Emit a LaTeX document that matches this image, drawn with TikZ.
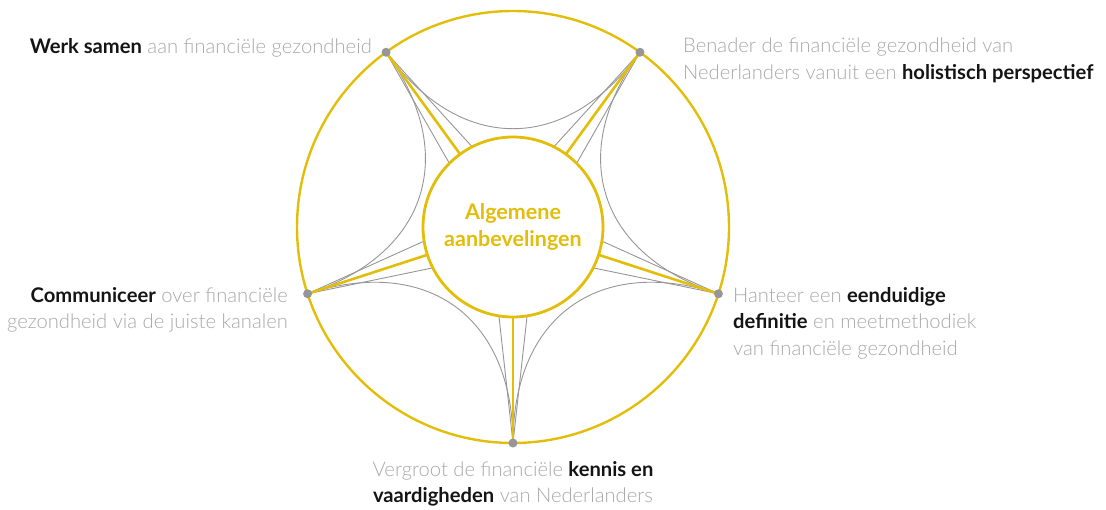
\documentclass[tikz,border=0pt]{standalone}
\usepackage{fontspec}
\setmainfont{Lato}[UprightFont={* Light},BoldFont={* Bold}]
\definecolor{gold}{RGB}{226,190,10}
\definecolor{lgray}{RGB}{150,150,150}
\definecolor{tgray}{RGB}{168,168,168}
\definecolor{tblack}{RGB}{20,20,20}
\tikzset{
  thin line/.style={draw=lgray,line width=0.9pt},
  gold line/.style={draw=gold,line width=2.6pt},
  pdot/.style={circle,fill=lgray,inner sep=0pt,minimum size=9pt},
  lbl/.style={inner sep=0pt,text=tgray,font=\fontsize{20.2}{26.5}\selectfont},
  center text/.style={inner sep=0pt,text=gold,align=center,font=\fontsize{21.5}{27}\selectfont\bfseries}
}
\newcommand{\bk}[1]{\textcolor{tblack}{\textbf{#1}}}
\begin{document}
\begin{tikzpicture}[x=1pt,y=-1pt]
\useasboundingbox (0,0) rectangle (1106,509);
\coordinate (O) at (513,227);
\foreach \a/\n in {126/A,54/B,342/C,270/D,198/E}{
  \coordinate (\n) at ({513+216*cos(\a)},{227-216*sin(\a)});
  \coordinate (\n i) at ({513+90*cos(\a)},{227-90*sin(\a)});
  \coordinate (\n l) at ({513+90*cos(\a+9)},{227-90*sin(\a+9)});
  \coordinate (\n r) at ({513+90*cos(\a-9)},{227-90*sin(\a-9)});
}
% concave arcs between neighbouring points
\draw[thin line] (A) .. controls (Ai) and (Bi) .. (B);
\draw[thin line] (B) .. controls (Bi) and (Ci) .. (C);
\draw[thin line] (C) .. controls (Ci) and (Di) .. (D);
\draw[thin line] (D) .. controls (Di) and (Ei) .. (E);
\draw[thin line] (E) .. controls (Ei) and (Ai) .. (A);
% spokes
\foreach \n in {A,B,C,D,E}{
  \draw[thin line] (\n) -- (\n l);
  \draw[thin line] (\n) -- (\n r);
  \draw[gold line] (\n) -- (\n i);
}
% circles
\node[circle,draw=gold,line width=2.4pt,minimum size=432pt,inner sep=0pt] (outer) at (O) {};
\node[circle,draw=gold,fill=white,line width=2.8pt,minimum size=180pt,inner sep=0pt] (inner) at (O) {};
\node[center text] (title) at (513,227) {Algemene\\aanbevelingen};
% dots
\foreach \n in {A,B,C,D,E}{
  \node[pdot] (d\n) at (\n) {};
}
% labels
\node[lbl,anchor=base east] (tA) at (372,53) {\bk{Werk samen} aan financiële gezondheid};
\node[lbl,anchor=north west,align=left] (tB) at (683,38) {Benader de financiële gezondheid van\\Nederlanders vanuit een \bk{holistisch perspectief}};
\node[lbl,anchor=north west,align=left] (tC) at (733,287) {Hanteer een \bk{eenduidige}\\\bk{definitie} en meetmethodiek\\van financiële gezondheid};
\node[lbl,anchor=north,align=center] (tD) at (513,461) {Vergroot de financiële \bk{kennis en}\\\bk{vaardigheden} van Nederlanders};
\node[lbl,anchor=north east,align=right] (tE) at (288,287) {\bk{Communiceer} over financiële\\gezondheid via de juiste kanalen};
\end{tikzpicture}
\end{document}
